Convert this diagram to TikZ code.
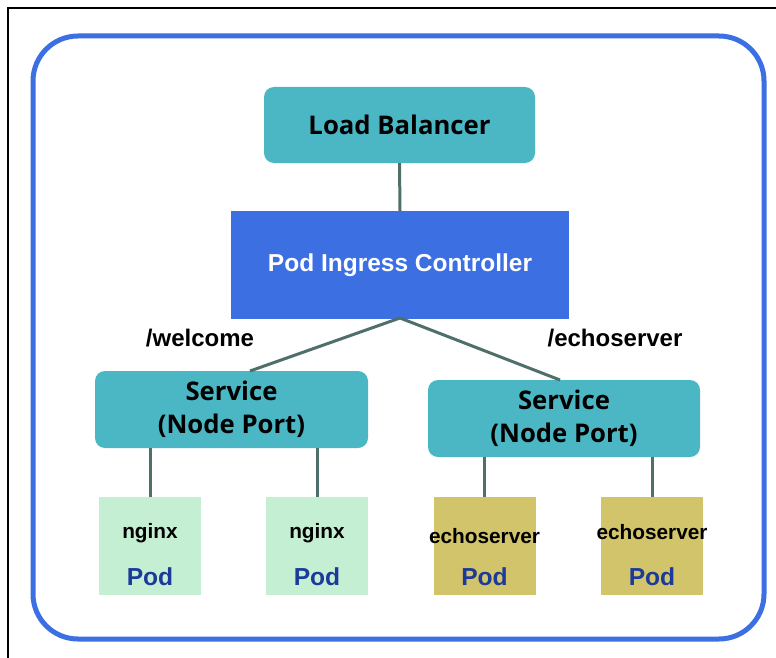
\documentclass[tikz,border=0pt]{standalone}
\usepackage{fontspec}
\setmainfont{Liberation Sans}
\newfontfamily\grande{Open Sans}
\definecolor{teal1}{HTML}{4BB6C4}
\definecolor{ctrl}{HTML}{3B6FE2}
\definecolor{frameblue}{HTML}{3B6FE2}
\definecolor{podgreen}{HTML}{C5EFD3}
\definecolor{podolive}{HTML}{D2C46A}
\definecolor{podtext}{HTML}{1B3A9A}
\definecolor{linkc}{HTML}{4F6F6A}
\tikzset{
  x=1pt,y=-1pt,
  svc/.style={fill=teal1, rounded corners=10pt, inner sep=0pt, align=center,
    font=\grande\bfseries\fontsize{25.7}{33}\selectfont},
  pod/.style={inner sep=0pt, minimum width=102pt, minimum height=98pt},
  link/.style={draw=linkc, line width=3pt},
  lbl/.style={font=\bfseries\fontsize{24}{28}\selectfont},
}
\begin{document}
\begin{tikzpicture}
\useasboundingbox (0,0) rectangle (776,658);
\draw[line width=2pt] (8,658) -- (8,8) -- (776,8);
\draw[frameblue, line width=5pt, rounded corners=45pt] (33,36) rectangle (764,639);

\node[svc, minimum width=271pt, minimum height=76pt] (lb) at (399.5,125) {Load Balancer};
\node[fill=ctrl, minimum width=338pt, minimum height=108pt, inner sep=0pt,
  text=white, font=\bfseries\fontsize{24.5}{28}\selectfont] (pic) at (400,265) {Pod Ingress Controller};
\node[svc, minimum width=273pt, minimum height=77pt] (s1) at (231.5,409.5) {Service\\(Node Port)};
\node[svc, minimum width=272pt, minimum height=77pt] (s2) at (564,418.5) {Service\\(Node Port)};

\node[lbl] (w) at (200,338) {/welcome};
\node[lbl] (e) at (615,338) {/echoserver};

\node[pod, fill=podgreen] (p1) at (150,546) {};
\node[pod, fill=podgreen] (p2) at (317,546) {};
\node[pod, fill=podolive] (p3) at (484.5,546) {};
\node[pod, fill=podolive] (p4) at (652,546) {};

\foreach \p/\t/\y in {p1/nginx/533, p2/nginx/533, p3/echoserver/536, p4/echoserver/532}{
  \node[font=\bfseries\fontsize{20.8}{23}\selectfont] (\p t) at (\p |- 0,\y) {\t};
  \node[text=podtext, font=\bfseries\fontsize{24.6}{27}\selectfont] (\p b) at (\p |- 0,577) {Pod};
}

\coordinate (pb) at (400,318);
\coordinate (s1t) at (250,371);
\coordinate (s2t) at (560,380);
\draw[link] (lb.south) -- (pic.north);
\draw[link] (pb) -- (s1t);
\draw[link] (pb) -- (s2t);
\draw[link] (s1.south -| p1) -- (p1.north);
\draw[link] (s1.south -| p2) -- (p2.north);
\draw[link] (s2.south -| p3) -- (p3.north);
\draw[link] (s2.south -| p4) -- (p4.north);
\end{tikzpicture}
\end{document}
